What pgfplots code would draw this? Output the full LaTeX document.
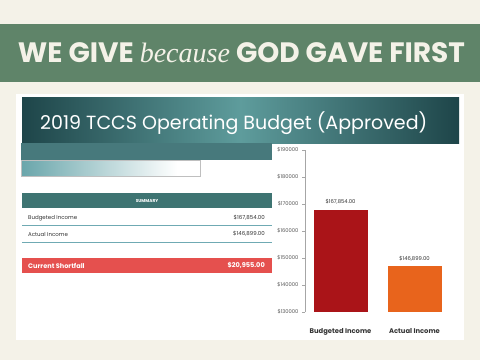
\documentclass[border=0pt]{standalone}
\usepackage{pgfplots}
\pgfplotsset{compat=1.18}
\usepackage{fontspec}
\setmainfont{Poppins}
\newfontfamily\serifit{Liberation Serif}
\definecolor{cream}{HTML}{F4F2E8}
\definecolor{bandgreen}{HTML}{5F8469}
\definecolor{hdark}{HTML}{1E4549}
\definecolor{hlight}{HTML}{5E9C9C}
\definecolor{tealstrip}{HTML}{47797C}
\definecolor{tealsum}{HTML}{3E7472}
\definecolor{gradteal}{HTML}{6AA6AB}
\definecolor{rowline}{HTML}{6FAAB3}
\definecolor{shortred}{HTML}{E5504E}
\definecolor{barred}{HTML}{AA1418}
\definecolor{barorange}{HTML}{E8641C}
\definecolor{txtgray}{HTML}{333333}
\begin{document}
\begin{tikzpicture}
\begin{scope}[x=1bp,y=1bp]
\fill[cream] (0,0) rectangle (480,360);
\fill[bandgreen] (0,278) rectangle (480,336);
\node[anchor=center,inner sep=0pt,text=cream] at (241.5,307) {\resizebox{447bp}{!}{\bfseries WE GIVE \textmd{\serifit\itshape because} GOD GAVE FIRST}};
\fill[white] (16,20) rectangle (464,266);
\shade[left color=hdark,right color=hdark,middle color=hlight] (22,217) rectangle (459,263);
\node[anchor=west,inner sep=0pt,text=white] at (40,237) {\resizebox{387bp}{!}{2019 TCCS Operating Budget (Approved)}};
\fill[tealstrip] (21,200) rectangle (272,217);
\draw[gray!50,line width=0.6bp] (21,184) rectangle (200,200);
\shade[left color=gradteal,right color=white] (22,185) rectangle (177,199);
\fill[tealsum] (22,152) rectangle (272,167);
\node[text=white,inner sep=0pt] at (147,159.5) {\fontsize{4.3}{5}\selectfont\bfseries SUMMARY};
\node[anchor=west,inner sep=0pt,text=txtgray] at (28,142) {\fontsize{5.5}{6}\selectfont Budgeted Income};
\node[anchor=east,inner sep=0pt,text=txtgray] at (265,142) {\fontsize{5.5}{6}\selectfont \$167,854.00};
\draw[rowline,line width=0.7bp] (22,135) -- (272,135);
\node[anchor=west,inner sep=0pt,text=txtgray] at (28,126) {\fontsize{5.5}{6}\selectfont Actual Income};
\node[anchor=east,inner sep=0pt,text=txtgray] at (265,126) {\fontsize{5.5}{6}\selectfont \$146,899.00};
\draw[rowline,line width=0.7bp] (22,118) -- (272,118);
\fill[shortred] (22,87) rectangle (272,102);
\node[anchor=west,inner sep=0pt,text=white] at (28,94.5) {\fontsize{6.6}{7}\selectfont\bfseries Current Shortfall};
\node[anchor=east,inner sep=0pt,text=white] at (265,94.5) {\fontsize{6.6}{7}\selectfont\bfseries \$20,955.00};
\end{scope}
\begin{axis}[
  at={(305bp,48bp)}, anchor=south west,
  scale only axis, width=145bp, height=162bp,
  xmin=-0.48, xmax=1.48, ymin=130000, ymax=190000,
  axis y line*=left, axis x line*=bottom,
  x axis line style={draw=none},
  y axis line style={draw=gray!70, line width=0.5bp},
  xtick={0,1}, xticklabels={Budgeted Income, Actual Income},
  xtick style={draw=none},
  xticklabel style={font=\fontsize{6.8}{7}\selectfont\bfseries, text=txtgray, yshift=-10bp},
  ytick={130000,140000,150000,160000,170000,180000,190000},
  ytick style={draw=gray!70, line width=0.5bp},
  tick align=outside, major tick length=3bp,
  /pgf/number format/assume math mode=true,
  yticklabel={\$\pgfmathprintnumber[fixed,1000 sep={}]{\tick}},
  yticklabel style={font=\fontsize{5.2}{5.5}\selectfont, text=gray!70!black, xshift=0bp},
  scaled y ticks=false,
  clip=false,
]
\addplot[ybar, bar width=54bp, bar shift=0pt, fill=barred, draw=none,
  nodes near coords={\$167,854.00},
  every node near coord/.append style={font=\fontsize{5.3}{5.5}\selectfont, text=txtgray, yshift=2bp}]
  coordinates {(0,167854)};
\addplot[ybar, bar width=54bp, bar shift=0pt, fill=barorange, draw=none,
  nodes near coords={\$146,899.00},
  every node near coord/.append style={font=\fontsize{5.3}{5.5}\selectfont, text=txtgray, yshift=2bp}]
  coordinates {(1,146899)};
\end{axis}
\end{tikzpicture}
\end{document}
